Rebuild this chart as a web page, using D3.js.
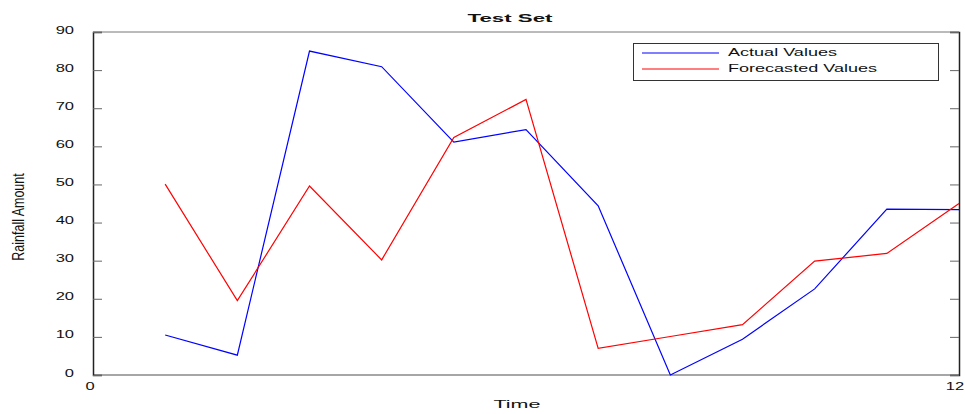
<!DOCTYPE html>
<html><head><meta charset="utf-8">
<script src="https://cdn.jsdelivr.net/npm/d3@7"></script>
<style>body{margin:0;background:#fff}svg{display:block}text{font-family:"Liberation Sans",Arial,sans-serif;fill:#111}</style>
</head><body><div id="chart"></div>
<script>
const timeSteps = [1,2,3,4,5,6,7,8,9,10,11,12];
const actualValues = [10.5, 5.2, 85.0, 80.9, 61.1, 64.4, 44.4, 0.0, 9.4, 22.6, 43.5, 43.4];
const forecastValues = [50.1, 19.5, 49.6, 30.2, 62.3, 72.3, 7.0, 10.1, 13.2, 29.9, 31.9, 45.0];
const yTicks = [0,10,20,30,40,50,60,70,80,90];
const xTicks = [0,12];
const seriesNames = ["Actual Values","Forecasted Values"];

const W = 965, H = 414;
const m = {left:93, right:6, top:32, bottom:39};
const svg = d3.select("#chart").append("svg").attr("width",W).attr("height",H);
const x = d3.scaleLinear().domain([0,12]).range([m.left, W-m.right]);
const y = d3.scaleLinear().domain([0,90]).range([H-m.bottom, m.top]);

function stretch(sel, target){
  sel.each(function(){
    const l = this.getComputedTextLength();
    const t = typeof target === "function" ? target(l) : target;
    d3.select(this).attr("textLength", t).attr("lengthAdjust","spacingAndGlyphs");
  });
}

// frame
svg.append("line").attr("x1",x(0)).attr("x2",x(12)).attr("y1",y(90)).attr("y2",y(90)).attr("stroke","#777").attr("stroke-width",1);
svg.append("line").attr("x1",x(0)).attr("x2",x(12)).attr("y1",y(0)).attr("y2",y(0)).attr("stroke","#888").attr("stroke-width",1.3);

// left axis
const yl = svg.append("g").attr("transform",`translate(${x(0)},0)`)
  .call(d3.axisLeft(y).tickValues(yTicks).tickSize(-9).tickPadding(20).tickFormat(d3.format("d")));
yl.select(".domain").attr("stroke","#222").attr("stroke-width",1.5);
yl.selectAll(".tick line").attr("stroke","#666");
yl.selectAll(".tick text").attr("font-size",11).attr("dy","0.1em").attr("x",-19).call(stretch, l=>l*1.5);

// right axis
const yr = svg.append("g").attr("transform",`translate(${x(12)},0)`)
  .call(d3.axisRight(y).tickValues(yTicks).tickSize(-9).tickFormat(""));
yr.select(".domain").attr("stroke","#222").attr("stroke-width",1.5);
yr.selectAll(".tick line").attr("stroke","#666");

// x tick labels
svg.append("g").selectAll("text").data(xTicks).join("text")
  .attr("x",d=>x(d)+(d===12?-4:-3)).attr("y",H-m.bottom+15).attr("text-anchor","middle")
  .attr("font-size",11).text(d=>d).call(stretch, l=>l*1.5);

// lines
const line = d3.line().x((d,i)=>x(timeSteps[i])).y(d=>y(d));
svg.append("path").datum(actualValues).attr("d",line).attr("fill","none").attr("stroke","#0000ff").attr("stroke-width",1.2);
svg.append("path").datum(forecastValues).attr("d",line).attr("fill","none").attr("stroke","#ff0000").attr("stroke-width",1.2);

// title & labels
svg.append("text").attr("x",510).attr("y",22).attr("text-anchor","middle").attr("font-weight","bold").attr("font-size",11.5).text("Test Set").call(stretch,85);
svg.append("text").attr("x",517).attr("y",408).attr("text-anchor","middle").attr("font-size",11.5).text("Time").call(stretch,47);
svg.append("text").attr("transform","translate(24,217) rotate(-90) scale(0.78,1)").attr("text-anchor","middle").attr("font-size",16).text("Rainfall Amount");

// legend
const lg = svg.append("g");
lg.append("rect").attr("x",633.5).attr("y",43.5).attr("width",305).attr("height",37).attr("fill","#fff").attr("stroke","#333").attr("stroke-width",1);
const colors = ["#0000ff","#ff0000"];
const lw = [109,149];
seriesNames.forEach((n,i)=>{
  const yy = 53 + i*16;
  lg.append("line").attr("x1",642).attr("x2",719).attr("y1",yy).attr("y2",yy).attr("stroke",colors[i]).attr("stroke-width",1);
  lg.append("text").attr("x",728).attr("y",yy+2.5).attr("font-size",11).text(n).call(stretch,lw[i]);
});
</script></body></html>
